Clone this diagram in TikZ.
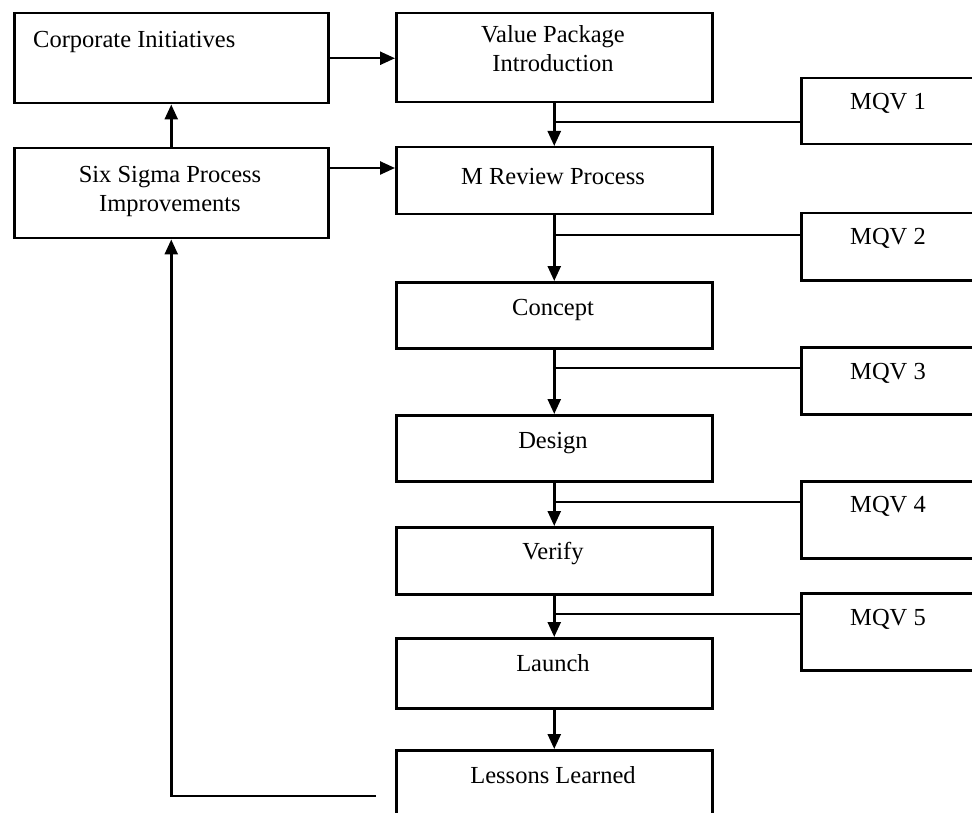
\documentclass[tikz,border=0pt]{standalone}
\usepackage{fontspec}
\setmainfont{Liberation Serif}
\usetikzlibrary{arrows.meta}
\begin{document}
\begin{tikzpicture}[x=1pt,y=-1pt,
  box/.style={draw, line width=2.5pt, rectangle, inner sep=0pt, anchor=north west},
  mainbox/.style={box, minimum width=316pt},
  sidebox/.style={box, minimum width=314pt},
  qvbox/.style={box, minimum width=190pt},
  txt/.style={font=\fontsize{24.5}{29}\selectfont, inner sep=0pt, align=center},
  flow/.style={line width=2.5pt},
  arr/.style={flow, -{Triangle[length=15pt,width=13pt]}}]
\fill[white] (0,0) rectangle (972,813);
\useasboundingbox (0,0) rectangle (972,813);
\clip (0,0) rectangle (972,813);

% left column
\node[sidebox, minimum height=90pt] (corp) at (13,12) {};
\node[sidebox, minimum height=90pt] (six) at (13,147) {};

% main process column
\node[mainbox, minimum height=89pt] (vp) at (395,12) {};
\node[mainbox, minimum height=67pt] (mrev) at (395,146) {};
\node[mainbox, minimum height=66pt] (concept) at (395,281) {};
\node[mainbox, minimum height=66pt] (design) at (395,414) {};
\node[mainbox, minimum height=67pt] (verify) at (395,526) {};
\node[mainbox, minimum height=70pt] (launch) at (395,637) {};
\node[mainbox, minimum height=100pt] (lessons) at (395,749) {};

% quality verification gates
\node[qvbox, minimum height=66pt] (mqv1) at (800,77) {};
\node[qvbox, minimum height=67pt] (mqv2) at (800,212) {};
\node[qvbox, minimum height=67pt] (mqv3) at (800,346) {};
\node[qvbox, minimum height=77pt] (mqv4) at (800,480) {};
\node[qvbox, minimum height=77pt] (mqv5) at (800,592) {};

% labels
\node[txt, anchor=base west] (corp-t) at (33,48) {Corporate Initiatives};
\node[txt] (six-t) at (170,191) {Six Sigma Process\\Improvements};
\node[txt] (vp-t) at (553,49) {Value Package\\Introduction};
\node[txt, anchor=base] (mrev-t) at (553,185) {M Review Process};
\node[txt, anchor=base] (concept-t) at (553,315) {Concept};
\node[txt, anchor=base] (design-t) at (553,448) {Design};
\node[txt, anchor=base] (verify-t) at (553,559) {Verify};
\node[txt, anchor=base] (launch-t) at (553,671) {Launch};
\node[txt, anchor=base] (lessons-t) at (553,783) {Lessons Learned};
\node[txt, anchor=base] (mqv1-t) at (888,110) {MQV 1};
\node[txt, anchor=base] (mqv2-t) at (888,245) {MQV 2};
\node[txt, anchor=base] (mqv3-t) at (888,379) {MQV 3};
\node[txt, anchor=base] (mqv4-t) at (888,512) {MQV 4};
\node[txt, anchor=base] (mqv5-t) at (888,625) {MQV 5};

% branch points on the main flow
\coordinate (b1) at (553,122);
\coordinate (b2) at (553,235);
\coordinate (b3) at (553,368);
\coordinate (b4) at (553,502);
\coordinate (b5) at (553,614);
\coordinate (h2) at (0,168);
\coordinate (fb) at (376,796);

% connectors
\draw[arr] (corp.east) -- (corp.east -| vp.west);
\draw[arr] (six.east |- h2) -- (mrev.west |- h2);
\draw[arr] (six.north) -- (corp.south);
\draw[arr] (vp.south) -- (mrev.north);
\draw[arr] (mrev.south) -- (concept.north);
\draw[arr] (concept.south) -- (design.north);
\draw[arr] (design.south) -- (verify.north);
\draw[arr] (verify.south) -- (launch.north);
\draw[arr] (launch.south) -- (lessons.north);
\draw[flow] (b1) -- (b1 -| mqv1.west);
\draw[flow] (b2) -- (b2 -| mqv2.west);
\draw[flow] (b3) -- (b3 -| mqv3.west);
\draw[flow] (b4) -- (b4 -| mqv4.west);
\draw[flow] (b5) -- (b5 -| mqv5.west);
\draw[arr] (fb) -| (six.south);
\end{tikzpicture}
\end{document}
